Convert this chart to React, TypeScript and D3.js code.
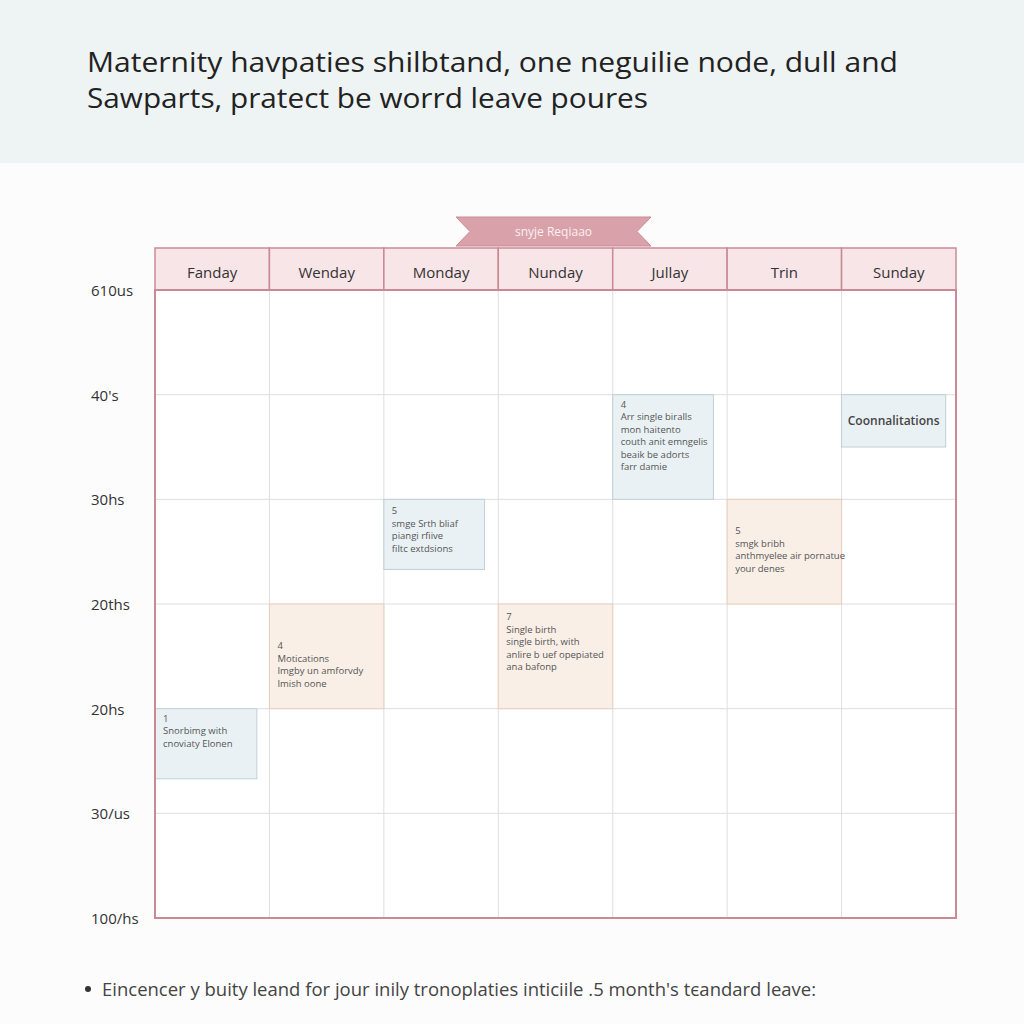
import React from "react";
import * as d3 from "d3";

const titleLines = [
  "Maternity havpaties shilbtand, one neguilie node, dull and",
  "Sawparts, pratect be worrd leave poures",
];
const bannerLabel = "snyje Reqiaao";
const days = ["Fanday", "Wenday", "Monday", "Nunday", "Jullay", "Trin", "Sunday"];
const rowLabels = ["610us", "40's", "30hs", "20ths", "20hs", "30/us", "100/hs"];

const eventDays = ["Fanday", "Wenday", "Monday", "Nunday", "Jullay", "Trin", "Sunday"];
const eventStart = [4, 3, 2, 3, 1, 2, 1];
const eventEnd = [4.67, 4, 2.67, 4, 2, 3, 1.5];
const eventWidthFrac = [0.89, 1, 0.88, 1, 0.88, 1, 0.91];
const eventKind = ["blue", "peach", "blue", "peach", "blue", "peach", "blue"];
const eventLines = [
  ["1", "Snorbimg with", "cnoviaty Elonen"],
  ["4", "Motications", "Imgby un amforvdy", "Imish oone"],
  ["5", "smge Srth bliaf", "piangi rfiive", "filtc extdsions"],
  ["7", "Single birth", "single birth, with", "anlire b uef opepiated", "ana bafonp"],
  ["4", "Arr single biralls", "mon haitento", "couth anit emngelis", "beaik be adorts", "farr damie"],
  ["5", "smgk bribh", "anthmyelee air pornatue", "your denes"],
  ["Coonnalitations"],
];
const eventTextDy = [13, 45, 15, 16, 13, 35, 0];
const footerText = "Eincencer y buity leand for jour inily tronoplaties inticiile .5 month's tєandard leave:";

const W = 1024;
const H = 1024;

export default function App() {
  const x = d3.scaleBand().domain(days).range([155, 956]).padding(0);
  const y = d3.scaleLinear().domain([0, 6]).range([290, 918]);
  const headerTop = 248;
  const colors: Record<string, { fill: string; stroke: string }> = {
    blue: { fill: "#e9f1f4", stroke: "#bfd0d8" },
    peach: { fill: "#f9efe7", stroke: "#e8cfbd" },
  };
  const bx0 = 456, bx1 = 651, by0 = 217, by1 = 246, notch = 14;
  const bannerPts = [
    [bx0, by0], [bx1, by0], [bx1 - notch, (by0 + by1) / 2], [bx1, by1],
    [bx0, by1], [bx0 + notch, (by0 + by1) / 2],
  ].map((p) => p.join(",")).join(" ");

  return (
    <svg width={W} height={H} style={{ position: "absolute", left: 0, top: 0, background: "#fcfcfc" }}
      fontFamily="'Open Sans', 'Noto Sans', sans-serif">
      <rect x={0} y={0} width={W} height={H} fill="#fcfcfc" />
      <rect x={0} y={0} width={W} height={163} fill="#eef3f3" />
      {titleLines.map((t, i) => (
        <text key={i} x={87} y={72 + i * 36} fontSize={28} fill="#222"
          textLength={i === 0 ? 811 : 561} lengthAdjust="spacingAndGlyphs">{t}</text>
      ))}

      {/* header row */}
      {days.map((d) => (
        <g key={d}>
          <rect x={x(d)} y={headerTop} width={x.bandwidth()} height={y(0) - headerTop}
            fill="#f8e5e8" stroke="#c98a96" strokeWidth={1.5} />
          <text x={(x(d) as number) + x.bandwidth() / 2} y={278} textAnchor="middle"
            fontSize={15} fill="#333">{d}</text>
        </g>
      ))}

      {/* banner */}
      <polygon points={bannerPts} fill="#d9a2aa" stroke="#c98a96" strokeWidth={1} />
      <text x={(bx0 + bx1) / 2} y={236} textAnchor="middle" fontSize={12} fill="#fbeff0">{bannerLabel}</text>

      {/* grid body */}
      <rect x={155} y={y(0)} width={801} height={y(6) - y(0)} fill="#ffffff" />
      {d3.range(1, 6).map((r) => (
        <line key={"h" + r} x1={155} x2={956} y1={y(r)} y2={y(r)} stroke="#dedede" strokeWidth={1} />
      ))}
      {days.slice(1).map((d) => (
        <line key={"v" + d} x1={x(d)} x2={x(d)} y1={y(0)} y2={y(6)} stroke="#dedede" strokeWidth={1} />
      ))}

      {/* events */}
      {eventDays.map((d, i) => {
        const c = colors[eventKind[i]];
        const ex = x(d) as number;
        const ew = x.bandwidth() * eventWidthFrac[i];
        const ey = y(eventStart[i]);
        const eh = y(eventEnd[i]) - ey;
        const lines = eventLines[i];
        const single = lines.length === 1;
        return (
          <g key={"e" + i}>
            <rect x={ex} y={ey} width={ew} height={eh} fill={c.fill} stroke={c.stroke} strokeWidth={1} />
            {single ? (
              <text x={ex + ew / 2} y={ey + eh / 2 + 4} textAnchor="middle" fontSize={12}
                fontWeight={600} fill="#444">{lines[0]}</text>
            ) : (
              lines.map((t, j) => (
                <text key={j} x={ex + 8} y={ey + eventTextDy[i] + j * 12.5} fontSize={9.5} fill="#555">{t}</text>
              ))
            )}
          </g>
        );
      })}

      {/* outer border of body */}
      <rect x={155} y={y(0)} width={801} height={y(6) - y(0)} fill="none" stroke="#c98a96" strokeWidth={2} />

      {/* row labels */}
      {rowLabels.map((l, i) => (
        <text key={l + i} x={91} y={y(i) + 6} fontSize={15} fill="#333">{l}</text>
      ))}

      {/* footer */}
      <circle cx={88} cy={989} r={3} fill="#333" />
      <text x={102} y={996} fontSize={19} fill="#444" textLength={714} lengthAdjust="spacingAndGlyphs">{footerText}</text>
    </svg>
  );
}
